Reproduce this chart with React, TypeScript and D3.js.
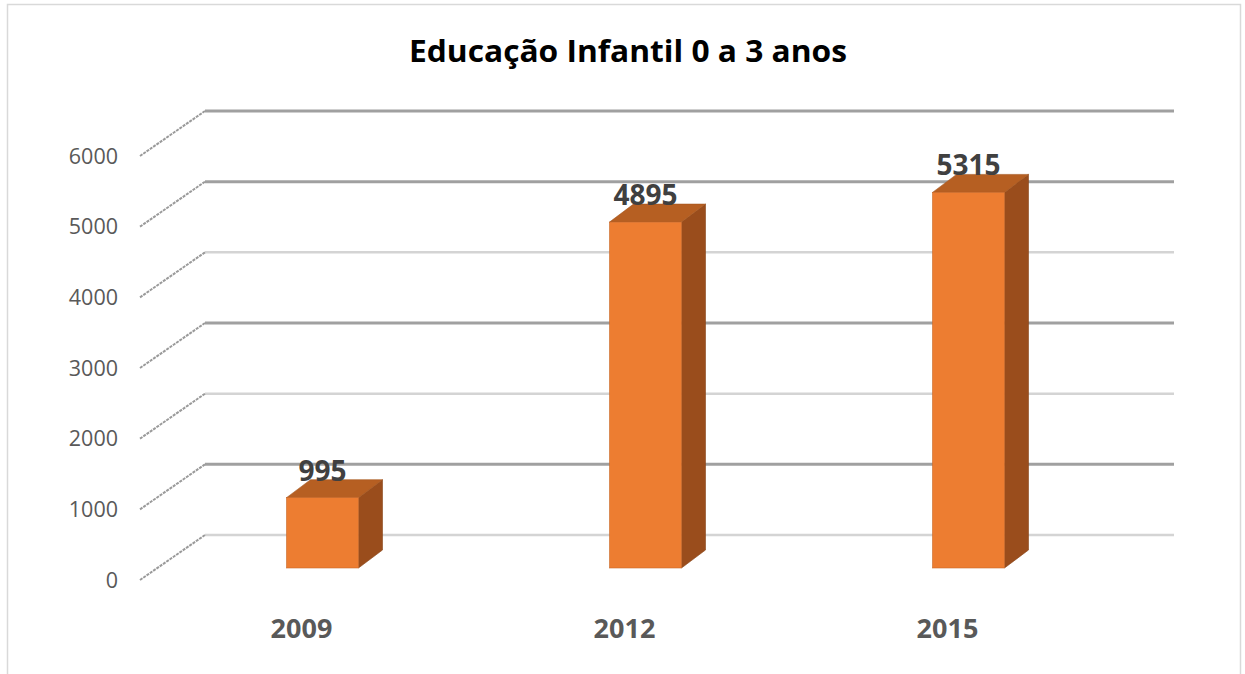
// 3D-style column chart: Educação Infantil 0 a 3 anos
import * as d3 from "d3";

const categories = ["2009", "2012", "2015"];
const values = [995, 4895, 5315];
const yTicks = [0, 1000, 2000, 3000, 4000, 5000, 6000];
const darkTicks = [1000, 3000, 5000, 6000];
const title = "Educação Infantil 0 a 3 anos";

const W = 1245;
const H = 674;
// oblique "depth" of the back wall
const wallDx = 65;
const wallDy = -45;
// bar placement inside the depth and its own depth
const barDx = 21;
const barDy = -12;
const barDepthX = 24;
const barDepthY = -18;
const barW = 72;

export default function App() {
  // front plane scales
  const x = d3.scaleBand().domain(categories).range([140, 1109]);
  const y = d3.scaleLinear().domain([0, 6000]).range([580, 156]);
  const font = "'Open Sans', 'Liberation Sans', sans-serif";

  return (
    <svg
      width={W}
      height={H}
      style={{ position: "absolute", left: 0, top: 0, background: "#fff" }}
    >
      {/* CHART BORDER */}
      <rect x={7.5} y={4.5} width={1233} height={700} fill="#fff" stroke="#d9d9d9" strokeWidth={1.5} />

      {/* TITLE */}
      <text
        x={628}
        y={62}
        textAnchor="middle"
        fontFamily={font}
        fontWeight="bold"
        fontSize={31}
        textLength={438}
        lengthAdjust="spacingAndGlyphs"
        fill="#000"
      >
        {title}
      </text>

      {/* BACK WALL GRIDLINES + SIDE WALL DIAGONALS */}
      {yTicks.map((t) => {
        const dark = darkTicks.includes(t);
        return (
          <g key={t}>
            <line
              x1={x.range()[0] + wallDx}
              x2={x.range()[1] + wallDx}
              y1={y(t) + wallDy}
              y2={y(t) + wallDy}
              stroke={dark ? "#a0a0a0" : "#d4d4d4"}
              strokeWidth={dark ? 3 : 2.5}
            />
            <line
              x1={x.range()[0]}
              y1={y(t)}
              x2={x.range()[0] + wallDx}
              y2={y(t) + wallDy}
              stroke="#9a9a9a"
              strokeWidth={2}
              strokeDasharray="3 1"
            />
            <text
              x={118}
              y={y(t)}
              dy="0.35em"
              textAnchor="end"
              fontFamily={font}
              fontSize={21.5}
              fill="#595959"
            >
              {t}
            </text>
          </g>
        );
      })}

      {/* BARS */}
      {categories.map((c, i) => {
        const cx = (x(c) as number) + x.bandwidth() / 2 + barDx;
        const x0 = cx - barW / 2;
        const x1 = cx + barW / 2;
        const yb = y(0) + barDy;
        const yt = y(values[i]) + barDy;
        const top = `M${x0},${yt} L${x1},${yt} L${x1 + barDepthX},${yt + barDepthY} L${x0 + barDepthX},${yt + barDepthY} Z`;
        const side = `M${x1},${yt} L${x1 + barDepthX},${yt + barDepthY} L${x1 + barDepthX},${yb + barDepthY} L${x1},${yb} Z`;
        return (
          <g key={c}>
            <path d={side} fill="#9a4d1c" stroke="#8a4418" strokeWidth={0.6} />
            <path d={top} fill="#b65f22" stroke="#a5561f" strokeWidth={0.6} />
            <rect x={x0} y={yt} width={barW} height={yb - yt} fill="#ed7d31" stroke="#c9692a" strokeWidth={0.6} />
            <text
              x={cx}
              y={yt + barDepthY + 1}
              textAnchor="middle"
              fontFamily={font}
              fontWeight="bold"
              fontSize={28}
              fill="#404040"
            >
              {values[i]}
            </text>
          </g>
        );
      })}

      {/* CATEGORY LABELS */}
      {categories.map((c) => (
        <text
          key={c}
          x={(x(c) as number) + x.bandwidth() / 2}
          y={638}
          textAnchor="middle"
          fontFamily={font}
          fontWeight="bold"
          fontSize={27}
          fill="#595959"
        >
          {c}
        </text>
      ))}
    </svg>
  );
}
